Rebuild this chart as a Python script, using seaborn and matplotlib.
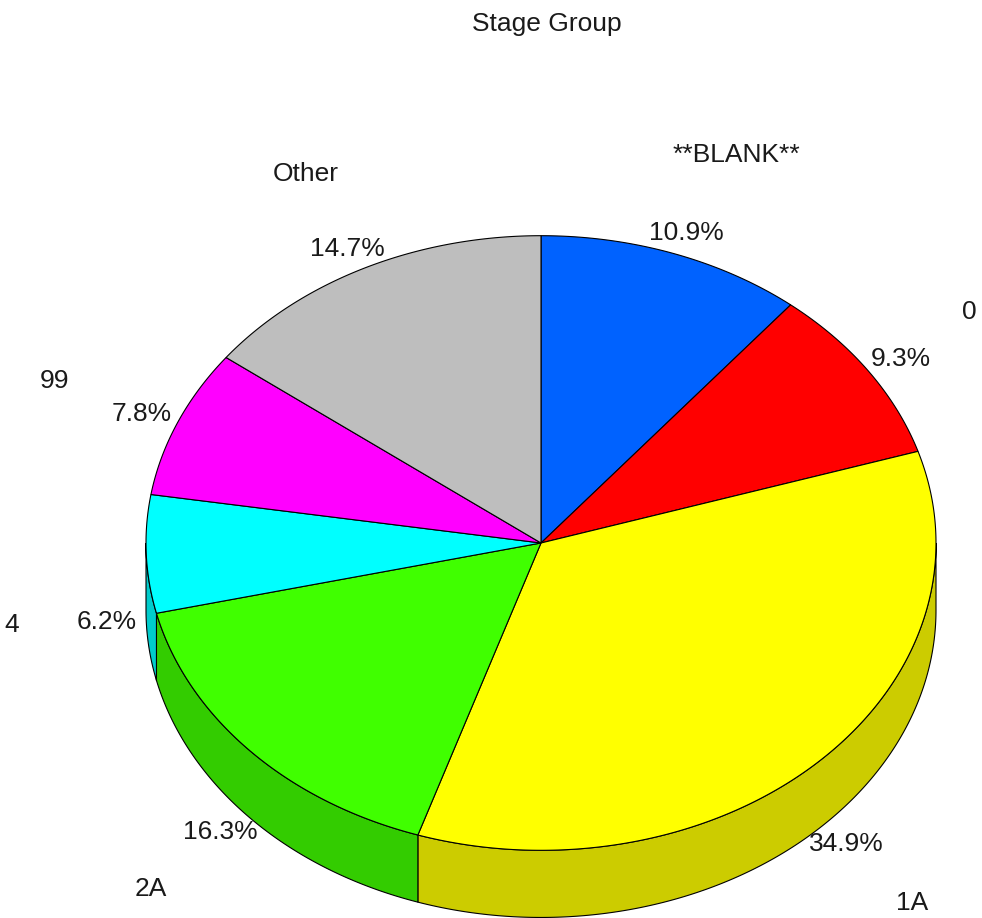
import numpy as np
import matplotlib.pyplot as plt
import seaborn as sns
from matplotlib.patches import Polygon

# data
categories = ["**BLANK**", "0", "1A", "2A", "4", "99", "Other"]
percents = [10.9, 9.3, 34.9, 16.3, 6.2, 7.8, 14.7]
top_colors = ["#0062FF", "#FF0000", "#FFFF00", "#40FF00", "#00FFFF", "#FF00FF", "#BEBEBE"]

sns.set_style("white")
plt.rcParams['font.family'] = ['Liberation Sans', 'DejaVu Sans']

# pie geometry (units of horizontal radius)
ry = 0.778
depth = 0.17
name_rad = 1.34
pct_rad_x, pct_rad_y = 1.1, 1.07
# small horizontal nudges for crowded name labels
name_dx = {"**BLANK**": 0.046, "0": -0.025}


def shade(c, f=0.8):
    r, g, b = plt.matplotlib.colors.to_rgb(c)
    return (r * f, g * f, b * f)


fig = plt.figure(figsize=(9.82, 9.18), dpi=100)
ax = fig.add_axes([0, 0, 1, 1])
ax.set_xlim(-541 / 395, 441 / 395)
ax.set_ylim(-375 / 395, 543 / 395)
ax.set_aspect('equal')
ax.axis('off')

fracs = np.array(percents) / np.sum(percents)
bounds = 90 - 360 * np.concatenate([[0], np.cumsum(fracs)])

# side walls (only the front half is visible)
for i, c in enumerate(top_colors):
    a0, a1 = bounds[i], bounds[i + 1]  # a0 > a1
    lo, hi = max(a1, -180), min(a0, 0)
    if lo >= hi:
        continue
    t = np.radians(np.linspace(lo, hi, 200))
    top = np.column_stack([np.cos(t), ry * np.sin(t)])
    bot = np.column_stack([np.cos(t), ry * np.sin(t) - depth])
    ax.add_patch(Polygon(np.vstack([top, bot[::-1]]), closed=True,
                         facecolor=shade(c), edgecolor='black', linewidth=0.8))

# top faces
for i, c in enumerate(top_colors):
    t = np.radians(np.linspace(bounds[i], bounds[i + 1], 300))
    pts = np.vstack([[0, 0], np.column_stack([np.cos(t), ry * np.sin(t)])])
    ax.add_patch(Polygon(pts, closed=True, facecolor=c,
                         edgecolor='black', linewidth=0.8))

# labels
for i, name in enumerate(categories):
    mid = np.radians((bounds[i] + bounds[i + 1]) / 2)
    off = depth if np.sin(mid) < 0 else 0
    ax.text(name_rad * np.cos(mid) + name_dx.get(name, 0),
            name_rad * ry * np.sin(mid) - off, name,
            ha='center', va='center', fontsize=19, color='#1a1a1a')
    ax.text(pct_rad_x * np.cos(mid), pct_rad_y * ry * np.sin(mid) - off,
            f"{percents[i]:.1f}%", ha='center', va='center', fontsize=19,
            color='#1a1a1a')

fig.text(547 / 982, 1 - 24 / 918, "Stage Group", ha='center', va='center',
         fontsize=19, color='#1a1a1a')

fig.savefig("out.png", dpi=100)
